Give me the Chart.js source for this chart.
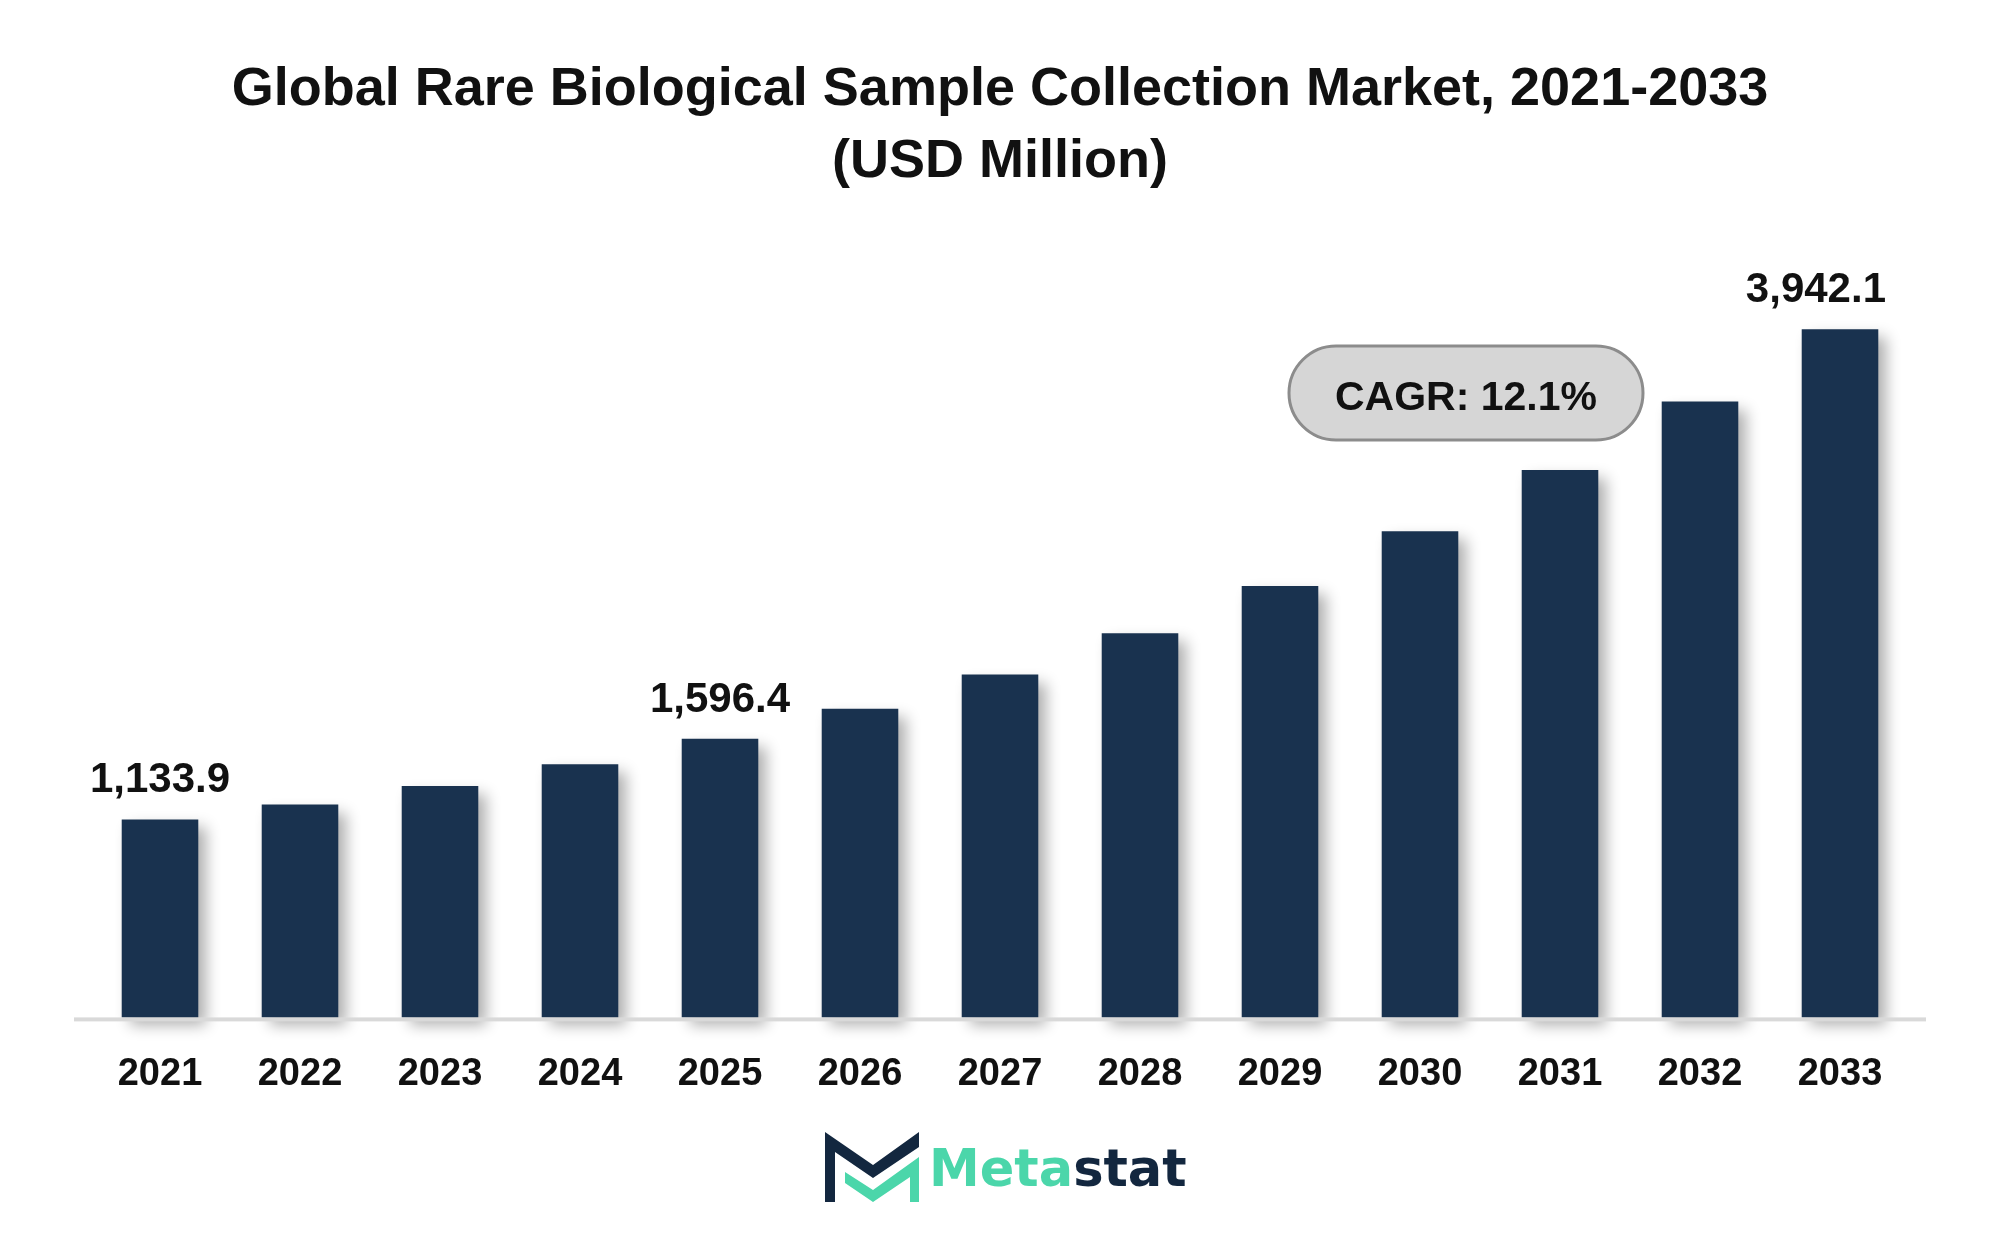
<!DOCTYPE html>
<html>
<head>
<meta charset="utf-8">
<title>Global Rare Biological Sample Collection Market</title>
<script src="https://cdn.jsdelivr.net/npm/chart.js@4.4.1/dist/chart.umd.min.js"></script>
<style>
  html, body { margin: 0; padding: 0; background: #ffffff; }
  #wrap { width: 2000px; height: 1240px; position: relative; }
</style>
</head>
<body>
<div id="wrap"><canvas id="chart"></canvas></div>
<script>

  /*
    ==================================================
    ====================== DATA ======================
    ==================================================
  */

  const titleLines = ['Global Rare Biological Sample Collection Market, 2021-2033', '(USD Million)'];
  const years = ['2021', '2022', '2023', '2024', '2025', '2026', '2027', '2028', '2029', '2030', '2031', '2032', '2033'];
  const marketValues = [1133.9, 1219.6, 1325.9, 1450.0, 1596.4, 1768.4, 1964.4, 2200.5, 2471.4, 2785.8, 3136.1, 3528.8, 3942.1];
  const labelledYears = ['2021', '2025', '2033'];
  const cagrText = 'CAGR: 12.1%';
  const brandParts = ['Meta', 'stat'];

  const FONT = '"Liberation Sans", Arial, sans-serif';
  const BAR_COLOR = '#19324f';
  const TEAL = '#4bd6aa';
  const NAVY = '#13273f';

  /*
    ==================================================
    ===================== PLUGINS =====================
    ==================================================
  */

  // soft drop shadow behind the bars, axis line drawn on top of it
  let barShadow = {
    id: 'barShadow',
    beforeDatasetsDraw(chart) {
      let ctx = chart.ctx;
      ctx.save();
      ctx.shadowColor = 'rgba(0, 0, 0, 0.32)';
      ctx.shadowBlur = 14;
      ctx.shadowOffsetX = 8;
      ctx.shadowOffsetY = 8;
    },
    afterDatasetsDraw(chart) {
      let ctx = chart.ctx;
      ctx.restore();

      let { left, right, bottom } = chart.chartArea;
      ctx.save();
      ctx.fillStyle = '#d9d9d9';
      ctx.fillRect(left - 16, bottom, right - left + 32, 4);
      ctx.restore();
    }
  };

  // value labels over a few bars
  let valueLabels = {
    id: 'valueLabels',
    afterDatasetsDraw(chart) {
      let ctx = chart.ctx;
      let meta = chart.getDatasetMeta(0);
      let maxRight = chart.chartArea.right - 24;
      ctx.save();
      ctx.font = `bold 42px ${FONT}`;
      ctx.fillStyle = '#111111';
      ctx.textAlign = 'center';
      ctx.textBaseline = 'alphabetic';
      years.forEach((year, i) => {
        if (!labelledYears.includes(year)) return;
        let bar = meta.data[i];
        let txt = marketValues[i].toLocaleString('en-US', { minimumFractionDigits: 1, maximumFractionDigits: 1 });
        let half = ctx.measureText(txt).width / 2;
        let x = Math.min(bar.x, maxRight - half);
        ctx.fillText(txt, x, bar.y - 27);
      });
      ctx.restore();
    }
  };

  // CAGR pill and brand logo
  let extras = {
    id: 'extras',
    afterDraw(chart) {
      let ctx = chart.ctx;

      // pill
      let x0 = 1289, x1 = 1643, y0 = 346, y1 = 440;
      let r = (y1 - y0) / 2;
      ctx.save();
      ctx.beginPath();
      ctx.moveTo(x0 + r, y0);
      ctx.lineTo(x1 - r, y0);
      ctx.arc(x1 - r, y0 + r, r, -Math.PI / 2, Math.PI / 2);
      ctx.lineTo(x0 + r, y1);
      ctx.arc(x0 + r, y0 + r, r, Math.PI / 2, Math.PI * 1.5);
      ctx.closePath();
      ctx.fillStyle = '#d6d6d6';
      ctx.fill();
      ctx.lineWidth = 3;
      ctx.strokeStyle = '#8c8c8c';
      ctx.stroke();

      ctx.font = `bold 41px ${FONT}`;
      ctx.fillStyle = '#111111';
      ctx.textAlign = 'center';
      ctx.textBaseline = 'alphabetic';
      ctx.fillText(cagrText, (x0 + x1) / 2, 410);
      ctx.restore();

      // logo mark
      let poly = (pts, color) => {
        ctx.beginPath();
        pts.forEach(([px, py], i) => i ? ctx.lineTo(px, py) : ctx.moveTo(px, py));
        ctx.closePath();
        ctx.fillStyle = color;
        ctx.fill();
      };
      ctx.save();
      poly([[825, 1132], [873, 1165], [919, 1132], [919, 1147], [873, 1178], [835, 1152], [835, 1202], [825, 1202]], NAVY);
      poly([[845, 1172], [873, 1190], [919, 1157], [919, 1202], [910, 1202], [910, 1177], [873, 1202], [845, 1183]], TEAL);

      ctx.font = `bold 51px "DejaVu Sans", sans-serif`;
      ctx.textAlign = 'left';
      ctx.textBaseline = 'alphabetic';
      ctx.fillStyle = TEAL;
      ctx.fillText(brandParts[0], 929, 1186);
      let w = ctx.measureText(brandParts[0]).width;
      ctx.fillStyle = NAVY;
      ctx.fillText(brandParts[1], 929 + w, 1186);
      ctx.restore();
    }
  };

  /*
    ==================================================
    ====================== CHART ======================
    ==================================================
  */

  new Chart(document.getElementById('chart').getContext('2d'), {
    type: 'bar',
    data: {
      labels: years,
      datasets: [{
        data: marketValues,
        backgroundColor: BAR_COLOR,
        borderWidth: 0,
        categoryPercentage: 1,
        barPercentage: 0.547,
        clip: false
      }]
    },
    options: {
      responsive: true,
      maintainAspectRatio: false,
      animation: false,
      devicePixelRatio: 1,
      layout: { padding: { left: 90, right: 90, top: 0, bottom: 109 } },
      plugins: {
        legend: { display: false },
        tooltip: { enabled: false },
        title: {
          display: true,
          text: titleLines,
          color: '#111111',
          font: { family: FONT, size: 54, weight: 'bold', lineHeight: 72 / 54 },
          padding: { top: 54, bottom: 34 }
        }
      },
      scales: {
        x: {
          grid: { display: false, drawTicks: false },
          border: { display: false },
          ticks: {
            color: '#111111',
            padding: 34,
            font: { family: FONT, size: 38, weight: 'bold', lineHeight: 1.2 }
          }
        },
        y: {
          display: false,
          min: 0,
          max: 4500
        }
      }
    },
    plugins: [barShadow, valueLabels, extras]
  });

</script>
</body>
</html>
